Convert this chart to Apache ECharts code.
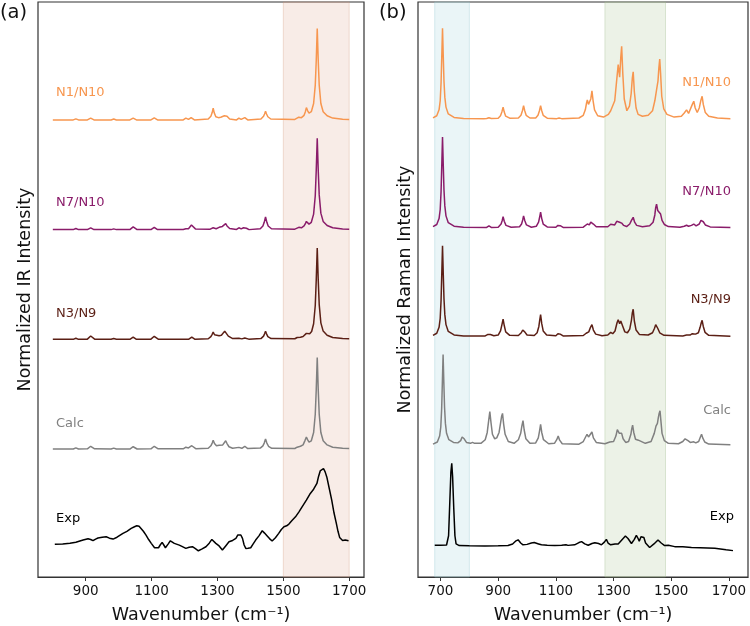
<!DOCTYPE html>
<html><head><meta charset="utf-8">
<script src="https://cdn.jsdelivr.net/npm/echarts@6/dist/echarts.min.js"></script>
<style>html,body{margin:0;padding:0;background:#fff}#c{width:750px;height:626px}</style>
</head><body><div id="c"></div>
<script>
// ---------- data ----------
const irTicks = [900, 1100, 1300, 1500, 1700];
const ramanTicks = [700, 900, 1100, 1300, 1500, 1700];
const seriesNames = ['N1/N10', 'N7/N10', 'N3/N9', 'Calc', 'Exp'];
const offsets = [4.8, 3.6, 2.4, 1.2, 0];
const irShade = [1500, 1700];
const ramanShadeBlue = [680, 800];
const ramanShadeGreen = [1270, 1480];

const irN1 = [[800,0],[862,0],[870,0.012],[878,0],[905,0],[915,0.02],[925,0],[977,0],[985,0.01],[993,0],[1034,0],[1044,0.02],[1054,0],[1098,0],[1108,0.022],[1118,0],[1196,0],[1204,0.02],[1212,0.006],[1220,0.025],[1230,0],[1272,0.01],[1280,0.04],[1284,0.08],[1287,0.13],[1290,0.08],[1295,0.035],[1303,0.025],[1310,0.03],[1316,0.03],[1321,0.045],[1325,0.065],[1329,0.04],[1337,0.01],[1358,0],[1365,0.02],[1372,0.006],[1383,0.025],[1392,0],[1432,0.01],[1440,0.04],[1443,0.065],[1446,0.095],[1449,0.065],[1453,0.035],[1462,0.01],[1535,0.005],[1547,0.03],[1555,0.025],[1563,0.05],[1567,0.09],[1570,0.135],[1574,0.1],[1578,0.075],[1585,0.09],[1592,0.18],[1597,0.38],[1600,0.65],[1603,1.0],[1606,0.65],[1609,0.38],[1614,0.18],[1621,0.09],[1633,0.045],[1650,0.02],[1680,0.008],[1700,0.005]];
const irN7 = [[800,0],[862,0],[870,0.012],[878,0],[905,0],[915,0.02],[925,0],[977,0],[985,0.008],[993,0],[1034,0],[1040,0.015],[1044,0.03],[1048,0.015],[1056,0],[1098,0],[1108,0.025],[1118,0],[1196,0.002],[1204,0.01],[1212,0.01],[1217,0.03],[1221,0.05],[1225,0.03],[1233,0.008],[1278,0.005],[1287,0.02],[1296,0.01],[1305,0.025],[1310,0.04],[1315,0.035],[1321,0.05],[1325,0.065],[1329,0.04],[1337,0.012],[1358,0.002],[1365,0.02],[1372,0.008],[1379,0.02],[1383,0.03],[1388,0.015],[1396,0],[1430,0.01],[1438,0.04],[1442,0.08],[1446,0.14],[1450,0.08],[1454,0.04],[1464,0.01],[1535,0.005],[1547,0.025],[1555,0.02],[1563,0.04],[1567,0.065],[1570,0.09],[1574,0.07],[1578,0.06],[1585,0.08],[1592,0.17],[1597,0.37],[1600,0.65],[1603,1.0],[1606,0.65],[1609,0.38],[1614,0.18],[1621,0.09],[1633,0.045],[1650,0.02],[1680,0.008],[1700,0.005]];
const irN3 = [[800,0],[862,0],[870,0.012],[878,0],[905,0.002],[911,0.02],[915,0.036],[919,0.02],[927,0.002],[977,0],[985,0.008],[993,0],[1034,0],[1044,0.025],[1054,0],[1098,0.002],[1104,0.018],[1108,0.033],[1112,0.018],[1120,0.002],[1212,0],[1222,0.025],[1232,0],[1272,0.006],[1280,0.03],[1284,0.055],[1287,0.08],[1291,0.05],[1297,0.03],[1305,0.04],[1312,0.045],[1318,0.06],[1322,0.09],[1325,0.11],[1328,0.075],[1333,0.035],[1345,0.01],[1365,0.012],[1374,0.005],[1383,0.015],[1395,0.002],[1432,0.008],[1440,0.035],[1443,0.06],[1446,0.087],[1449,0.06],[1453,0.03],[1463,0.008],[1535,0.006],[1542,0.02],[1547,0.036],[1552,0.022],[1560,0.03],[1566,0.05],[1570,0.065],[1574,0.06],[1580,0.06],[1586,0.085],[1592,0.17],[1597,0.37],[1600,0.65],[1603,1.0],[1606,0.65],[1609,0.38],[1614,0.18],[1621,0.09],[1633,0.045],[1650,0.02],[1680,0.008],[1700,0.005]];
const irCalc = [[800,0],[862,0],[870,0.012],[878,0],[905,0.002],[911,0.016],[915,0.03],[919,0.016],[927,0.002],[977,0],[985,0.01],[993,0],[1034,0],[1040,0.013],[1044,0.025],[1048,0.013],[1056,0],[1098,0.002],[1104,0.016],[1108,0.03],[1112,0.016],[1120,0.002],[1196,0.002],[1204,0.02],[1212,0.012],[1218,0.022],[1222,0.036],[1226,0.02],[1234,0.004],[1272,0.008],[1280,0.035],[1284,0.065],[1287,0.095],[1291,0.06],[1297,0.035],[1305,0.04],[1310,0.045],[1316,0.045],[1321,0.065],[1325,0.09],[1329,0.06],[1335,0.025],[1346,0.008],[1365,0.018],[1374,0.008],[1383,0.03],[1392,0.005],[1430,0.01],[1438,0.035],[1442,0.065],[1446,0.11],[1450,0.065],[1455,0.03],[1465,0.008],[1535,0.006],[1542,0.02],[1547,0.036],[1552,0.03],[1560,0.045],[1566,0.095],[1570,0.13],[1574,0.1],[1578,0.075],[1585,0.09],[1592,0.18],[1597,0.38],[1600,0.65],[1603,1.0],[1606,0.65],[1609,0.38],[1614,0.18],[1621,0.09],[1633,0.045],[1650,0.02],[1680,0.008],[1700,0.005]];
const irExp = [[806,0.157],[830,0.16],[852,0.168],[870,0.18],[892,0.204],[907,0.218],[915,0.21],[922,0.197],[930,0.215],[937,0.226],[950,0.235],[962,0.24],[972,0.225],[983,0.215],[995,0.235],[1013,0.277],[1025,0.3],[1038,0.332],[1048,0.35],[1055,0.36],[1062,0.355],[1068,0.342],[1075,0.3],[1083,0.258],[1091,0.21],[1099,0.168],[1109,0.12],[1115,0.125],[1121,0.12],[1126,0.15],[1132,0.179],[1137,0.15],[1142,0.12],[1150,0.16],[1157,0.196],[1163,0.175],[1169,0.168],[1175,0.17],[1184,0.149],[1192,0.135],[1204,0.113],[1214,0.125],[1224,0.131],[1233,0.11],[1242,0.087],[1252,0.105],[1265,0.131],[1275,0.17],[1283,0.211],[1289,0.2],[1295,0.168],[1305,0.14],[1315,0.095],[1325,0.14],[1335,0.185],[1346,0.2],[1356,0.222],[1362,0.26],[1366,0.277],[1371,0.26],[1376,0.222],[1381,0.15],[1386,0.113],[1393,0.115],[1401,0.12],[1408,0.16],[1416,0.204],[1426,0.25],[1436,0.306],[1443,0.28],[1451,0.248],[1458,0.22],[1466,0.193],[1476,0.23],[1486,0.277],[1494,0.32],[1502,0.349],[1510,0.36],[1517,0.379],[1527,0.42],[1537,0.458],[1547,0.51],[1557,0.568],[1570,0.64],[1582,0.714],[1592,0.76],[1602,0.823],[1607,0.9],[1612,0.96],[1617,0.975],[1622,0.987],[1627,0.95],[1632,0.895],[1640,0.76],[1647,0.64],[1654,0.5],[1661,0.386],[1666,0.3],[1671,0.233],[1676,0.22],[1680,0.2],[1683,0.211],[1688,0.205],[1693,0.222],[1698,0.196]];

const ramanN1 = [[674,0.012],[687,0.035],[695,0.1],[699,0.2],[702,0.4],[704.5,0.7],[707,1.0],[709.5,0.7],[712,0.42],[715,0.24],[719,0.13],[727,0.055],[747,0.016],[780,0.004],[850,0.002],[860,0.004],[868,0.012],[876,0.004],[900,0.008],[908,0.035],[913,0.08],[917,0.13],[921,0.075],[926,0.03],[940,0.008],[970,0.01],[979,0.04],[984,0.09],[988,0.147],[992,0.09],[997,0.04],[1010,0.01],[1030,0.01],[1038,0.04],[1043,0.09],[1047,0.147],[1051,0.09],[1056,0.04],[1070,0.008],[1103,0.003],[1111,0.01],[1120,0.003],[1180,0.01],[1195,0.04],[1202,0.1],[1206,0.17],[1209,0.21],[1213,0.16],[1217,0.14],[1221,0.22],[1225,0.31],[1229,0.2],[1234,0.1],[1245,0.035],[1265,0.02],[1282,0.05],[1290,0.09],[1296,0.1],[1304,0.2],[1310,0.4],[1316,0.6],[1321,0.46],[1325,0.68],[1328,0.8],[1332,0.5],[1337,0.22],[1346,0.09],[1355,0.14],[1361,0.28],[1365,0.45],[1368,0.52],[1372,0.3],[1378,0.12],[1385,0.05],[1400,0.03],[1420,0.04],[1435,0.09],[1443,0.2],[1449,0.32],[1454,0.42],[1457,0.56],[1460,0.66],[1463,0.5],[1467,0.25],[1474,0.11],[1485,0.05],[1510,0.02],[1535,0.03],[1545,0.065],[1553,0.1],[1560,0.06],[1566,0.08],[1573,0.16],[1578,0.195],[1583,0.12],[1590,0.07],[1597,0.12],[1603,0.21],[1607,0.25],[1611,0.16],[1618,0.07],[1630,0.03],[1660,0.01],[1705,0.003]];
const ramanN7 = [[674,0.012],[687,0.035],[695,0.1],[699,0.2],[702,0.4],[704.5,0.7],[707,1.0],[709.5,0.7],[712,0.42],[715,0.24],[719,0.13],[727,0.055],[747,0.016],[780,0.004],[860,0.002],[868,0.02],[876,0.003],[900,0.005],[910,0.04],[914,0.08],[917,0.12],[921,0.07],[927,0.025],[945,0.005],[974,0.01],[981,0.04],[985,0.085],[988,0.13],[992,0.08],[998,0.03],[1015,0.005],[1032,0.015],[1040,0.06],[1044,0.12],[1047,0.17],[1051,0.1],[1056,0.04],[1070,0.008],[1100,0.005],[1107,0.025],[1111,0.04],[1115,0.022],[1125,0.003],[1195,0.005],[1209,0.04],[1216,0.03],[1221,0.06],[1225,0.077],[1230,0.04],[1240,0.01],[1280,0.01],[1290,0.037],[1296,0.02],[1304,0.03],[1311,0.07],[1316,0.09],[1321,0.06],[1328,0.05],[1335,0.025],[1345,0.012],[1356,0.04],[1362,0.08],[1368,0.114],[1373,0.06],[1380,0.025],[1400,0.01],[1425,0.02],[1437,0.06],[1443,0.14],[1446,0.22],[1449,0.26],[1453,0.19],[1458,0.17],[1463,0.15],[1468,0.08],[1476,0.035],[1490,0.012],[1530,0.005],[1545,0.015],[1553,0.026],[1560,0.015],[1570,0.025],[1578,0.04],[1586,0.02],[1597,0.04],[1603,0.08],[1607,0.1],[1611,0.065],[1618,0.03],[1635,0.008],[1705,0.002]];
const ramanN3 = [[674,0.012],[687,0.035],[695,0.1],[699,0.2],[702,0.4],[704.5,0.7],[707,1.0],[709.5,0.7],[712,0.42],[715,0.24],[719,0.13],[727,0.055],[747,0.016],[780,0.004],[855,0.005],[863,0.02],[868,0.037],[873,0.02],[885,0.008],[900,0.015],[908,0.06],[913,0.13],[917,0.19],[921,0.12],[926,0.05],[940,0.012],[970,0.01],[980,0.04],[985,0.07],[988,0.085],[992,0.05],[1000,0.015],[1025,0.01],[1035,0.04],[1041,0.11],[1044,0.18],[1047,0.24],[1051,0.14],[1056,0.06],[1068,0.015],[1100,0.008],[1107,0.03],[1111,0.044],[1115,0.025],[1125,0.005],[1195,0.01],[1205,0.035],[1209,0.048],[1214,0.05],[1220,0.1],[1225,0.13],[1230,0.07],[1238,0.025],[1260,0.008],[1280,0.015],[1290,0.044],[1297,0.03],[1305,0.06],[1312,0.15],[1316,0.185],[1321,0.14],[1325,0.17],[1328,0.19],[1332,0.11],[1339,0.05],[1348,0.04],[1356,0.08],[1362,0.18],[1365,0.26],[1368,0.3],[1372,0.17],[1378,0.07],[1390,0.02],[1420,0.015],[1435,0.04],[1442,0.09],[1446,0.13],[1449,0.148],[1453,0.09],[1460,0.04],[1475,0.012],[1540,0.005],[1553,0.015],[1565,0.015],[1573,0.03],[1578,0.04],[1584,0.025],[1594,0.04],[1600,0.1],[1604,0.15],[1607,0.177],[1611,0.11],[1617,0.045],[1630,0.012],[1705,0.002]];
const ramanCalc = [[674,0.012],[689,0.035],[697,0.1],[701,0.2],[704,0.4],[706.5,0.7],[709,1.0],[711.5,0.7],[714,0.42],[717,0.24],[721,0.13],[729,0.06],[745,0.03],[760,0.025],[770,0.05],[775,0.09],[778,0.11],[782,0.07],[790,0.03],[804,0.02],[811,0.03],[818,0.02],[840,0.02],[855,0.06],[862,0.14],[867,0.27],[871,0.37],[875,0.25],[880,0.12],[888,0.07],[895,0.08],[903,0.14],[909,0.26],[912,0.32],[915,0.35],[919,0.23],[924,0.12],[935,0.04],[955,0.02],[970,0.06],[978,0.13],[982,0.21],[986,0.27],[990,0.17],[996,0.07],[1010,0.02],[1030,0.025],[1039,0.08],[1043,0.15],[1047,0.23],[1051,0.14],[1057,0.06],[1075,0.015],[1095,0.02],[1103,0.06],[1108,0.1],[1113,0.055],[1122,0.015],[1180,0.01],[1195,0.04],[1203,0.09],[1208,0.12],[1213,0.09],[1219,0.11],[1225,0.145],[1230,0.08],[1240,0.03],[1270,0.015],[1287,0.035],[1293,0.04],[1300,0.04],[1308,0.1],[1313,0.17],[1316,0.19],[1320,0.13],[1324,0.12],[1328,0.13],[1333,0.07],[1342,0.03],[1352,0.04],[1360,0.12],[1363,0.18],[1366,0.22],[1370,0.14],[1376,0.065],[1382,0.05],[1386,0.055],[1392,0.035],[1410,0.02],[1430,0.04],[1441,0.13],[1447,0.21],[1452,0.24],[1455,0.3],[1458,0.35],[1461,0.38],[1464,0.27],[1468,0.13],[1476,0.05],[1490,0.02],[1525,0.015],[1540,0.04],[1548,0.07],[1553,0.085],[1558,0.05],[1566,0.03],[1572,0.035],[1578,0.037],[1585,0.025],[1595,0.04],[1601,0.09],[1605,0.12],[1609,0.08],[1616,0.035],[1630,0.012],[1705,0.003]];
const ramanExp = [[680,0.094],[700,0.096],[721,0.098],[728,0.2],[732,0.55],[736,0.9],[739,1.0],[742,0.85],[746,0.5],[750,0.2],[754,0.11],[765,0.092],[800,0.09],[854,0.088],[900,0.09],[934,0.092],[950,0.11],[960,0.14],[969,0.155],[978,0.12],[986,0.1],[1000,0.105],[1015,0.12],[1025,0.125],[1040,0.11],[1050,0.1],[1070,0.095],[1096,0.092],[1120,0.095],[1135,0.1],[1142,0.094],[1165,0.1],[1180,0.125],[1189,0.135],[1200,0.11],[1212,0.095],[1225,0.115],[1235,0.124],[1248,0.115],[1258,0.1],[1268,0.13],[1275,0.16],[1281,0.12],[1290,0.1],[1305,0.11],[1316,0.11],[1330,0.16],[1341,0.197],[1350,0.17],[1362,0.115],[1372,0.16],[1379,0.205],[1385,0.17],[1389,0.14],[1395,0.19],[1400,0.21],[1405,0.18],[1411,0.12],[1425,0.07],[1440,0.11],[1454,0.153],[1465,0.12],[1477,0.092],[1490,0.095],[1512,0.08],[1540,0.078],[1570,0.07],[1600,0.068],[1651,0.062],[1690,0.045],[1714,0.036]];

const irSpectra = [irN1, irN7, irN3, irCalc, irExp];
const ramanSpectra = [ramanN1, ramanN7, ramanN3, ramanCalc, ramanExp];

// ---------- style ----------
const colors = ['#F7964F', '#8A1C6A', '#5B1F15', '#808080', '#000000'];
const FONT = 'DejaVu Sans';

const chart = echarts.init(document.getElementById('c'), null, {renderer: 'canvas'});

function xAxisDef(gridIndex, min, max, ticks) {
  return {
    type: 'value', gridIndex, min, max,
    name: 'Wavenumber (cm\u207B\u00B9)', nameLocation: 'middle', nameGap: 29,
    nameTextStyle: {fontFamily: FONT, fontSize: 17.5, color: '#111'},
    axisLine: {show: true, onZero: false, lineStyle: {color: '#333', width: 1.2}},
    axisTick: {show: true, inside: false, length: 4, customValues: ticks, lineStyle: {color: '#333', width: 1}},
    axisLabel: {show: true, margin: 7, customValues: ticks, formatter: v => String(v), fontFamily: FONT, fontSize: 13.5, color: '#111'},
    splitLine: {show: false}
  };
}
function yAxisDef(gridIndex, min, max, name) {
  return {
    type: 'value', gridIndex, min, max,
    name, nameLocation: 'middle', nameGap: 4,
    nameTextStyle: {fontFamily: FONT, fontSize: 17.5, color: '#111'},
    axisLine: {show: false}, axisTick: {show: false}, axisLabel: {show: false},
    splitLine: {show: false}
  };
}

const series = [];
// shaded bands
series.push({
  type: 'line', xAxisIndex: 0, yAxisIndex: 0, data: [], z: 1, silent: true,
  markArea: {silent: true, itemStyle: {color: 'rgba(222,170,145,0.22)', borderColor: 'rgba(210,150,120,0.3)', borderWidth: 1},
    data: [[{xAxis: irShade[0]}, {xAxis: irShade[1]}]]}
});
series.push({
  type: 'line', xAxisIndex: 1, yAxisIndex: 1, data: [], z: 1, silent: true,
  markArea: {silent: true,
    data: [
      [{xAxis: ramanShadeBlue[0], itemStyle: {color: 'rgba(170,215,225,0.25)', borderColor: 'rgba(150,200,210,0.35)', borderWidth: 1}}, {xAxis: ramanShadeBlue[1]}],
      [{xAxis: ramanShadeGreen[0], itemStyle: {color: 'rgba(180,205,160,0.25)', borderColor: 'rgba(160,190,140,0.35)', borderWidth: 1}}, {xAxis: ramanShadeGreen[1]}]
    ]}
});
irSpectra.forEach((arr, i) => {
  series.push({
    name: 'IR ' + seriesNames[i], type: 'line', xAxisIndex: 0, yAxisIndex: 0, z: 3,
    data: arr.map(p => [p[0], p[1] + offsets[i]]),
    showSymbol: false, symbol: 'none', smooth: false, silent: true,
    lineStyle: {color: colors[i], width: 1.5}
  });
});
ramanSpectra.forEach((arr, i) => {
  series.push({
    name: 'Raman ' + seriesNames[i], type: 'line', xAxisIndex: 1, yAxisIndex: 1, z: 3,
    data: arr.map(p => [p[0], p[1] + offsets[i]]),
    showSymbol: false, symbol: 'none', smooth: false, silent: true,
    lineStyle: {color: colors[i], width: 1.5}
  });
});

const labelYa = [93, 203, 314, 424, 519];
const labelYb = [83, 192, 300, 411, 517];
const graphics = [
  {type: 'text', x: 0, y: 13, style: {text: '(a)', font: '19.5px "DejaVu Sans"', fill: '#111', verticalAlign: 'middle', textVerticalAlign: 'middle'}},
  {type: 'text', x: 379, y: 13, style: {text: '(b)', font: '19.5px "DejaVu Sans"', fill: '#111', verticalAlign: 'middle', textVerticalAlign: 'middle'}}
];
seriesNames.forEach((n, i) => {
  graphics.push({type: 'text', x: 56, y: labelYa[i], style: {text: n, font: '13px "DejaVu Sans"', fill: colors[i], textVerticalAlign: 'middle', verticalAlign: 'middle'}});
  graphics.push({type: 'text', x: i === 4 ? 734 : 731, y: labelYb[i], style: {text: n, font: '13px "DejaVu Sans"', fill: colors[i], align: 'right', textAlign: 'right', verticalAlign: 'middle', textVerticalAlign: 'middle'}});
});

chart.setOption({
  animation: false,
  backgroundColor: '#fff',
  grid: [
    {left: 38, top: 2, width: 326, height: 575, show: true, borderColor: '#333', borderWidth: 1.2, backgroundColor: 'transparent', containLabel: false, outerBoundsMode: 'none'},
    {left: 418, top: 2, width: 330, height: 575, show: true, borderColor: '#333', borderWidth: 1.2, backgroundColor: 'transparent', containLabel: false, outerBoundsMode: 'none'}
  ],
  xAxis: [xAxisDef(0, 755, 1745, irTicks), xAxisDef(1, 622, 1766, ramanTicks)],
  yAxis: [yAxisDef(0, -0.2, 6.09, 'Normalized IR Intensity'), yAxisDef(1, -0.255, 6.09, 'Normalized Raman Intensity')],
  series,
  graphic: graphics
});
</script></body></html>
